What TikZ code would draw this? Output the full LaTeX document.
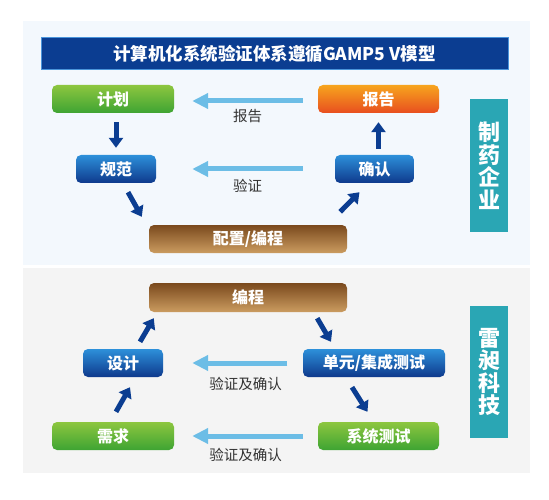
\documentclass[tikz,border=0pt]{standalone}
\usepackage{fontspec}
\setmainfont{Noto Sans CJK SC}
\usetikzlibrary{arrows.meta,calc}
\definecolor{titleblue}{HTML}{0B3D91}
\definecolor{titleedge}{HTML}{4A94DA}
\definecolor{darkarrow}{HTML}{0B3D91}
\definecolor{lightarrow}{HTML}{6CBDE6}
\definecolor{teal}{HTML}{2AA6B4}
\definecolor{panelblue}{HTML}{F3F8FD}
\definecolor{panelgray}{HTML}{F4F4F4}
\definecolor{labelgray}{HTML}{333333}
\definecolor{greentop}{HTML}{8DC63F}
\definecolor{greenbot}{HTML}{3EA433}
\definecolor{orangetop}{HTML}{F7A51E}
\definecolor{orangebot}{HTML}{E84E1F}
\definecolor{bluetop}{HTML}{2D90DA}
\definecolor{bluebot}{HTML}{0E398C}
\definecolor{browntop}{HTML}{7A491D}
\definecolor{brownbot}{HTML}{CB9C60}
\tikzset{
  boxbase/.style={rounded corners=5pt, minimum height=28pt, inner sep=0pt,
    text=white, font=\fontsize{16}{16}\selectfont\bfseries},
  greenbox/.style={boxbase, top color=greentop, bottom color=greenbot},
  orangebox/.style={boxbase, top color=orangetop, bottom color=orangebot},
  bluebox/.style={boxbase, top color=bluetop, bottom color=bluebot},
  brownbox/.style={boxbase, top color=browntop, bottom color=brownbot},
  sidebox/.style={fill=teal, text=white, minimum width=38pt, inner sep=0pt,
    align=center, font=\fontsize{22}{22.5}\selectfont\bfseries},
  darr/.style={draw=darkarrow, line width=5pt, -{Triangle[width=14pt,length=10pt]}},
  larr/.style={draw=lightarrow, line width=5pt, -{Triangle[width=15pt,length=16pt]}},
  lbl/.style={text=labelgray, font=\fontsize{14.5}{14.5}\selectfont, inner sep=0pt},
}
\begin{document}
\begin{tikzpicture}[x=1pt,y=-1pt]
\useasboundingbox[fill=white] (0,0) rectangle (549,500);
% panels
\fill[panelblue] (22.7,21) rectangle (530,265);
\fill[panelgray] (22.7,268) rectangle (530,473);
% title
\node[fill=titleblue, draw=titleedge, line width=1pt, minimum width=467pt, minimum height=32pt,
  inner sep=0pt, text=white, font=\fontsize{17.5}{17.5}\selectfont\bfseries] (title) at (274.5,54)
  {计算机化系统验证体系遵循GAMP5 V模型};
% top section
\node[greenbox, minimum width=122pt] (jihua) at (113,99) {计划};
\node[orangebox, minimum width=121pt] (baogao) at (378.5,99) {报告};
\node[bluebox, minimum width=80pt] (guifan) at (116,169) {规范};
\node[bluebox, minimum width=79pt] (queren) at (374.5,169) {确认};
\node[brownbox, minimum width=198pt] (peizhi) at (248,239) {配置/编程};
\node[sidebox, minimum height=133pt] (side1) at (489,165.5) {制\\药\\企\\业};
\node[lbl] (lbl1) at (247.5,116) {报告};
\node[lbl] (lbl2) at (247.5,186) {验证};
% bottom section
\node[brownbox, minimum width=198pt, minimum height=29pt] (biancheng) at (248,297.5) {编程};
\node[bluebox, minimum width=80pt] (sheji) at (123,363) {设计};
\node[bluebox, minimum width=142pt] (danyuan) at (374,363) {单元/集成测试};
\node[greenbox, minimum width=122pt] (xuqiu) at (113,436) {需求};
\node[greenbox, minimum width=121pt] (xitong) at (378.5,436) {系统测试};
\node[sidebox, minimum height=132pt] (side2) at (489,372) {雷\\昶\\科\\技};
\node[lbl] (lbl3) at (245.5,384) {验证及确认};
\node[lbl] (lbl4) at (245.5,455) {验证及确认};
% light arrows
\draw[larr, shorten <=15pt, shorten >=18pt] ([yshift=-2pt]baogao.west) -- ([yshift=-2pt]jihua.east);
\draw[larr, shorten <=32pt, shorten >=36pt] (queren.west) -- (guifan.east);
\draw[larr, shorten <=15.5pt, shorten >=29pt] (danyuan.west) -- (sheji.east);
\draw[larr, shorten <=15pt, shorten >=18pt] (xitong.west) -- (xuqiu.east);
% dark arrows
\draw[darr, shorten <=9pt, shorten >=7pt] (guifan.north |- jihua.south) -- (guifan.north);
\draw[darr, shorten <=6pt, shorten >=9pt] (baogao.south |- queren.north) -- (baogao.south);
\draw[darr] ([shift={(12,9)}]guifan.south) -- ([shift={(-7,-8)}]peizhi.north west);
\draw[darr] ([shift={(-7,-13)}]peizhi.north east) -- ([shift={(-15,9)}]queren.south);
\draw[darr] ([shift={(3,-10)}]xuqiu.north) -- ([shift={(7,10)}]sheji.south);
\draw[darr] ([shift={(17,-7)}]sheji.north) -- ([shift={(5,6)}]biancheng.south west);
\draw[darr] ([shift={(-30,6)}]biancheng.south east) -- ([shift={(-43,-7)}]danyuan.north);
\draw[darr] ([shift={(-22,10)}]danyuan.south) -- ([shift={(-11,-10)}]xitong.north);
\end{tikzpicture}
\end{document}
